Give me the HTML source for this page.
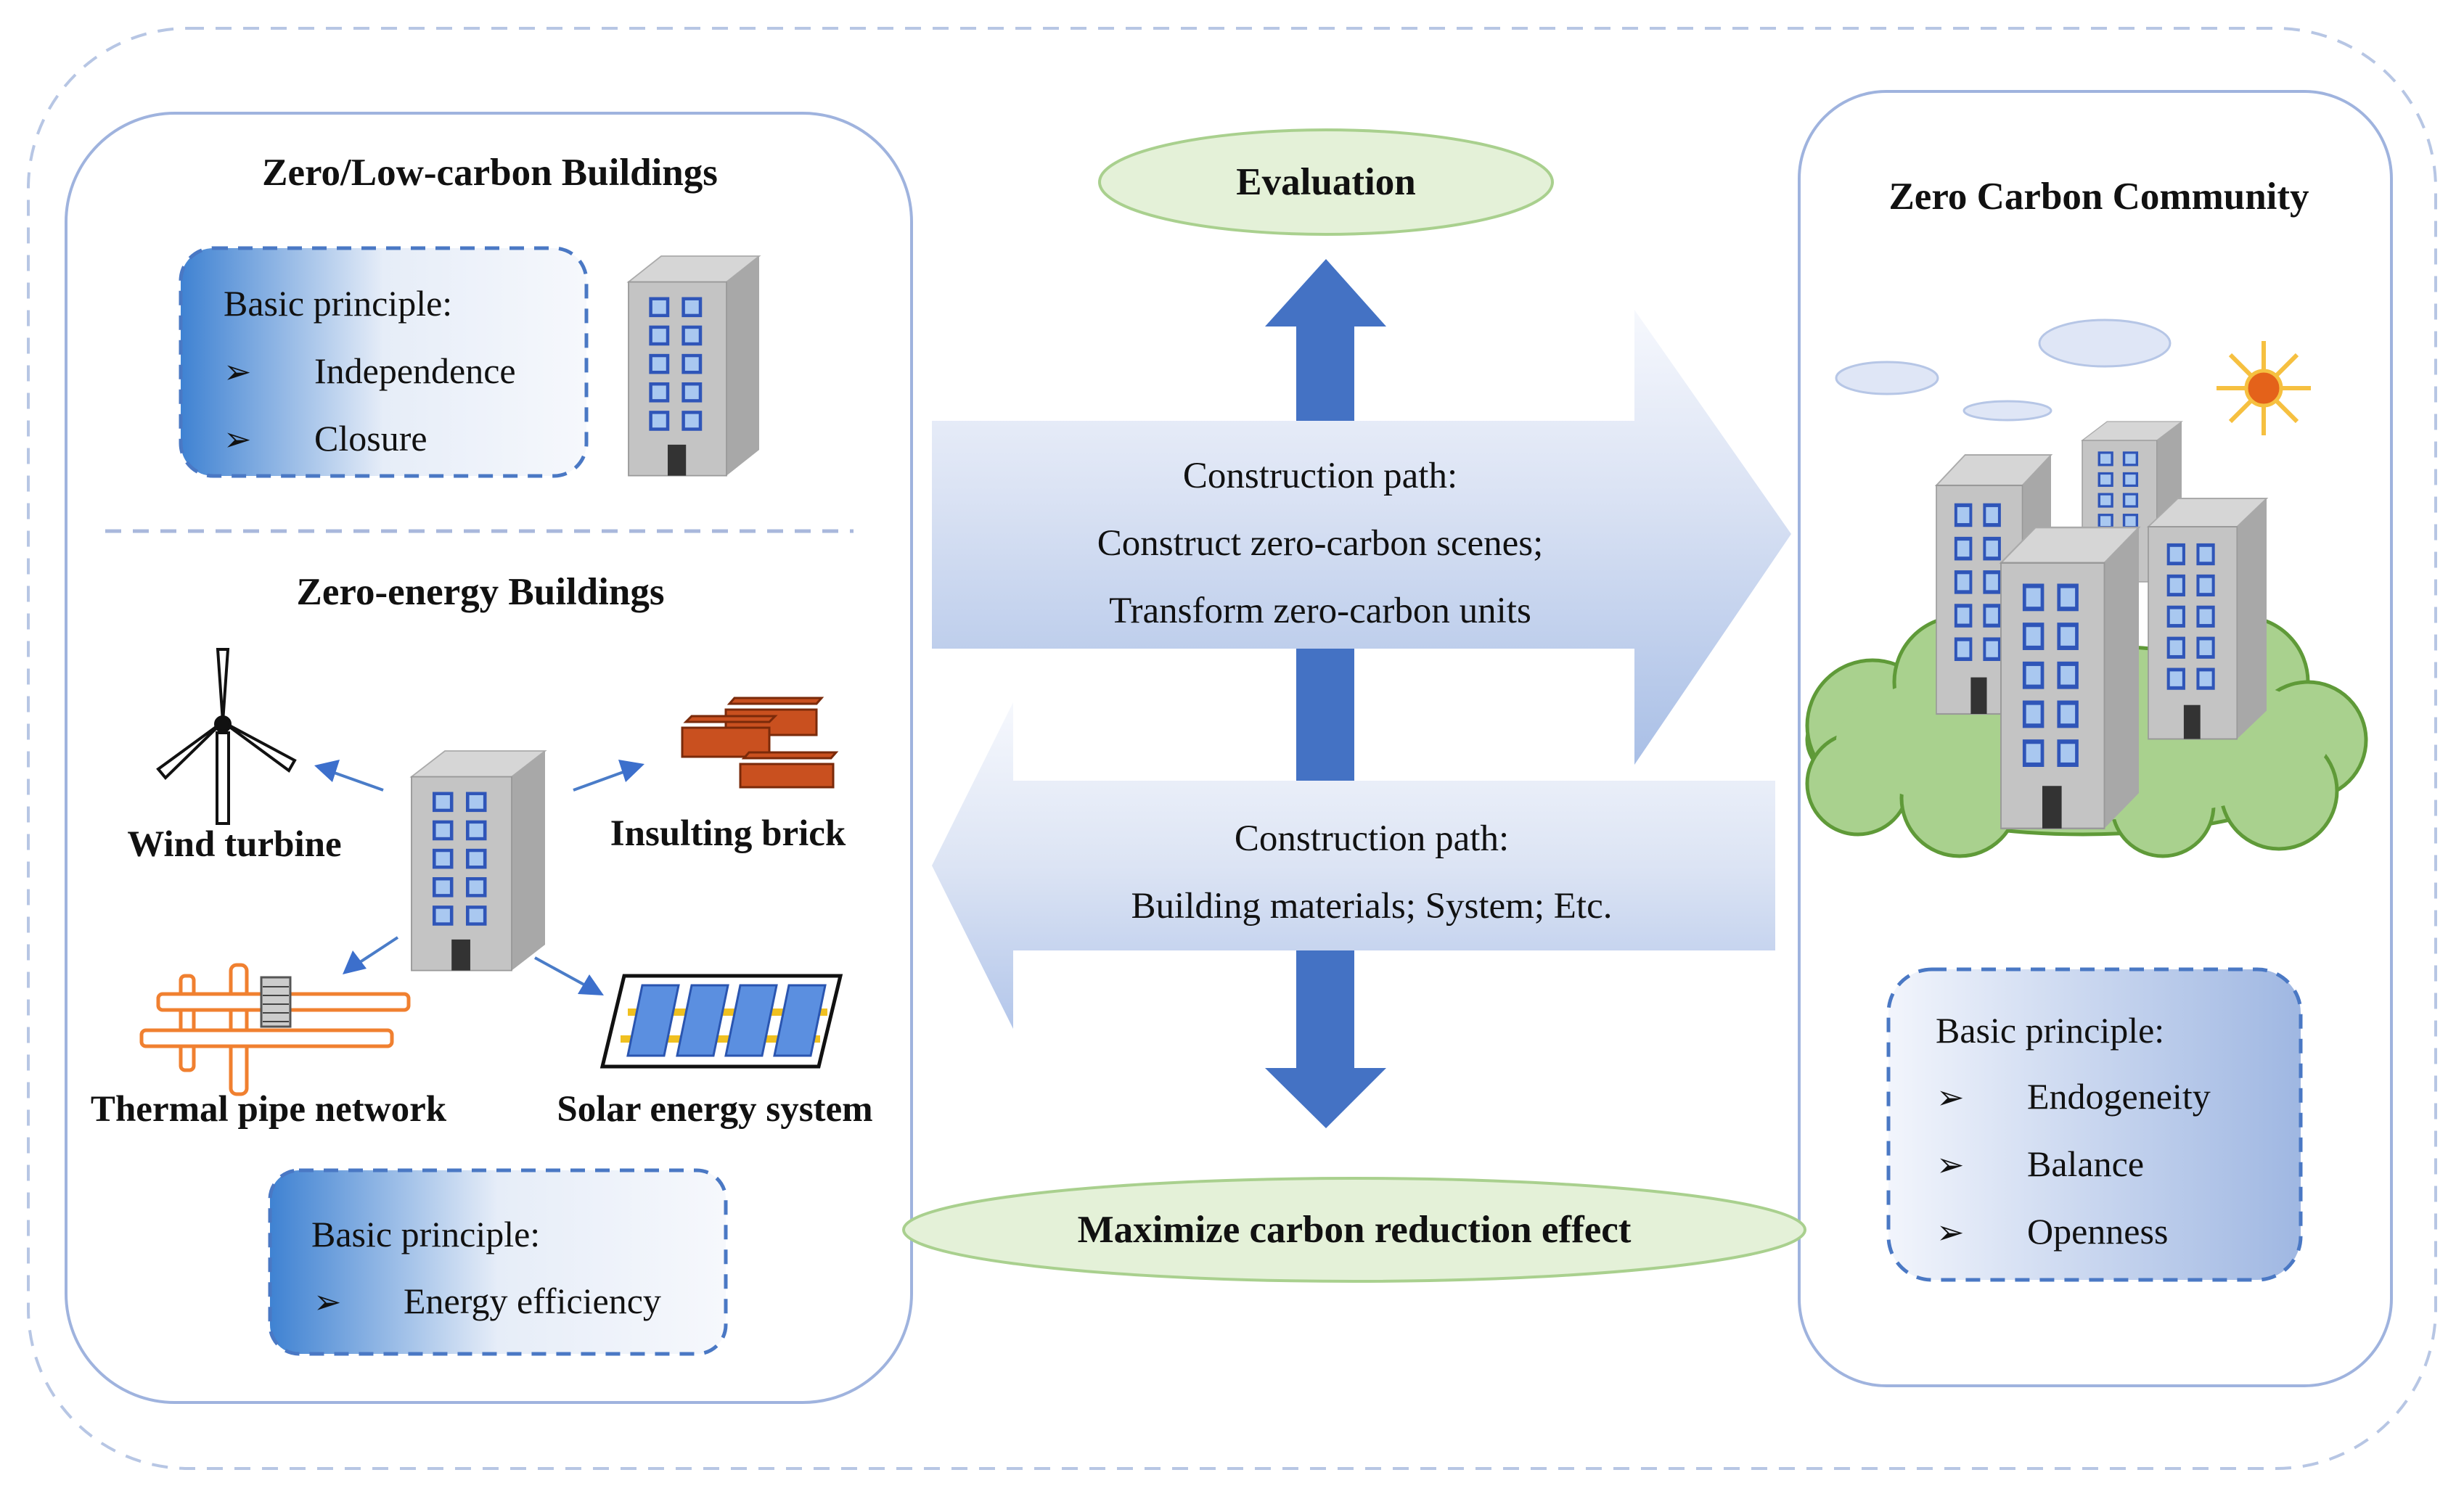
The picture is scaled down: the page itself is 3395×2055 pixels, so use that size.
<!DOCTYPE html>
<html><head><meta charset="utf-8"><style>
html,body{margin:0;padding:0;background:#fff}
svg{display:block}
text{font-family:"Liberation Serif",serif;fill:#111}
.b{font-weight:bold}
.bu{font-family:"DejaVu Sans",sans-serif;font-weight:bold}
</style></head><body>
<svg width="3395" height="2055" viewBox="0 0 3395 2055" xmlns="http://www.w3.org/2000/svg">
<defs>
<linearGradient id="gl" x1="0" y1="0" x2="1" y2="0">
<stop offset="0" stop-color="#3f82d2"/><stop offset="0.5" stop-color="#e6edf8"/><stop offset="1" stop-color="#f6f8fc"/></linearGradient>
<linearGradient id="gr" x1="0" y1="0" x2="1" y2="0">
<stop offset="0" stop-color="#f2f5fc"/><stop offset="1" stop-color="#9fb7e2"/></linearGradient>
<linearGradient id="ga" x1="0" y1="0" x2="0" y2="1">
<stop offset="0" stop-color="#f6f8fd"/><stop offset="0.4" stop-color="#dbe3f4"/><stop offset="1" stop-color="#a9bfe6"/></linearGradient>
<linearGradient id="ga2" x1="0" y1="0" x2="0" y2="1">
<stop offset="0" stop-color="#f6f8fd"/><stop offset="0.5" stop-color="#dce4f4"/><stop offset="1" stop-color="#b3c6ea"/></linearGradient>
<g id="bld">
<polygon points="0,20 25,0 100,0 75,20" fill="#d6d6d6" stroke="#aaa" stroke-width="1"/>
<polygon points="75,20 100,0 100,150 75,170" fill="#a8a8a8"/>
<rect x="0" y="20" width="75" height="150" fill="#c4c4c4" stroke="#999" stroke-width="1"/>
<g fill="#a9c8f0" stroke="#2f55b8" stroke-width="2.5">
<rect x="17" y="33" width="13" height="13"/><rect x="42" y="33" width="13" height="13"/>
<rect x="17" y="55" width="13" height="13"/><rect x="42" y="55" width="13" height="13"/>
<rect x="17" y="77" width="13" height="13"/><rect x="42" y="77" width="13" height="13"/>
<rect x="17" y="99" width="13" height="13"/><rect x="42" y="99" width="13" height="13"/>
<rect x="17" y="121" width="13" height="13"/><rect x="42" y="121" width="13" height="13"/>
</g>
<rect x="30" y="146" width="14" height="24" fill="#333"/>
</g>
</defs>

<rect x="39" y="39" width="3317" height="1985" rx="220" fill="none" stroke="#b7c6e4" stroke-width="4" stroke-dasharray="22,16"/>
<rect x="91" y="156" width="1165" height="1777" rx="150" fill="#fff" stroke="#9fb3de" stroke-width="4"/>
<rect x="2479" y="126" width="816" height="1784" rx="120" fill="#fff" stroke="#9fb3de" stroke-width="4"/>

<text x="675" y="255" text-anchor="middle" class="b" font-size="53">Zero/Low-carbon Buildings</text>
<rect x="249" y="342" width="559" height="314" rx="45" fill="url(#gl)" stroke="#4a78c4" stroke-width="5" stroke-dasharray="20,14"/>
<text x="308" y="435" font-size="50">Basic principle:</text>
<text x="308" y="528" class="bu" font-size="46">➢</text><text x="433" y="528" font-size="50">Independence</text>
<text x="308" y="621" class="bu" font-size="46">➢</text><text x="433" y="621" font-size="50">Closure</text>
<use href="#bld" transform="translate(866,353) scale(1.8,1.78)"/>
<line x1="145" y1="732" x2="1176" y2="732" stroke="#a9b8dc" stroke-width="5" stroke-dasharray="22,16"/>
<text x="662" y="833" text-anchor="middle" class="b" font-size="53">Zero-energy Buildings</text>

<g stroke="#111" stroke-width="4" fill="none">
<rect x="299" y="1010" width="16" height="125" fill="#fff"/>
<path d="M307,995 L300,895 L314,895 Z" fill="#fff"/>
<path d="M307,995 L218,1060 L228,1072 Z" fill="#fff"/>
<path d="M307,995 L406,1048 L398,1062 Z" fill="#fff"/>
<circle cx="307" cy="998" r="10" fill="#111"/>
</g>
<text x="323" y="1180" text-anchor="middle" class="b" font-size="51">Wind turbine</text>

<use href="#bld" transform="translate(567,1035) scale(1.84,1.78)"/>

<g fill="#c9501f" stroke="#7a2a0a" stroke-width="3">
<polygon points="1005,970 1125,970 1132,962 1012,962"/>
<rect x="1000" y="978" width="125" height="35"/>
<polygon points="945,995 1060,995 1068,987 953,987"/>
<rect x="940" y="1003" width="120" height="40"/>
<polygon points="1025,1045 1145,1045 1152,1037 1032,1037"/>
<rect x="1020" y="1053" width="128" height="32"/>
</g>
<text x="1003" y="1165" text-anchor="middle" class="b" font-size="51">Insulting brick</text>

<g stroke="#4a7cc8" stroke-width="4" fill="#3c6fcc">
<line x1="528" y1="1089" x2="452" y2="1062"/><polygon points="433,1055 468,1047 458,1078" stroke="none"/>
<line x1="790" y1="1089" x2="870" y2="1060"/><polygon points="888,1053 852,1047 862,1078" stroke="none"/>
<line x1="548" y1="1292" x2="490" y2="1330"/><polygon points="472,1343 486,1310 505,1335" stroke="none"/>
<line x1="737" y1="1320" x2="810" y2="1360"/><polygon points="832,1372 812,1343 796,1370" stroke="none"/>
</g>

<g transform="translate(0,-50)">
<g fill="#fff" stroke="#f08030" stroke-width="5">
<rect x="249" y="1395" width="18" height="130" rx="6"/>
<rect x="318" y="1380" width="22" height="178" rx="8"/>
<rect x="218" y="1420" width="345" height="22" rx="6"/>
<rect x="195" y="1470" width="345" height="22" rx="6"/>
<rect x="360" y="1397" width="40" height="68" fill="#ccc" stroke="#555" stroke-width="3"/>
</g>
<g stroke="#444" stroke-width="2"><line x1="362" y1="1410" x2="398" y2="1410"/><line x1="362" y1="1422" x2="398" y2="1422"/><line x1="362" y1="1434" x2="398" y2="1434"/><line x1="362" y1="1446" x2="398" y2="1446"/><line x1="362" y1="1458" x2="398" y2="1458"/></g>
</g>
<text x="370" y="1545" text-anchor="middle" class="b" font-size="51">Thermal pipe network</text>

<polygon points="860,1345 1158,1345 1128,1470 830,1470" fill="#fff" stroke="#111" stroke-width="5"/>
<g stroke="#f0c020" stroke-width="10"><line x1="865" y1="1395" x2="1140" y2="1395"/><line x1="855" y1="1432" x2="1130" y2="1432"/></g>
<g fill="#5b8fe0" stroke="#2a55b0" stroke-width="3">
<polygon points="885,1358 935,1358 915,1455 865,1455"/>
<polygon points="953,1358 1003,1358 983,1455 933,1455"/>
<polygon points="1020,1358 1070,1358 1050,1455 1000,1455"/>
<polygon points="1087,1358 1137,1358 1117,1455 1067,1455"/>
</g>
<text x="985" y="1545" text-anchor="middle" class="b" font-size="51">Solar energy system</text>

<rect x="372" y="1613" width="628" height="253" rx="40" fill="url(#gl)" stroke="#4a78c4" stroke-width="5" stroke-dasharray="20,14"/>
<text x="429" y="1718" font-size="50">Basic principle:</text>
<text x="432" y="1810" class="bu" font-size="46">➢</text><text x="556" y="1810" font-size="50">Energy efficiency</text>

<ellipse cx="1827" cy="251" rx="312" ry="72" fill="#e4f1d8" stroke="#a9d08e" stroke-width="4"/>
<text x="1827" y="268" text-anchor="middle" class="b" font-size="53">Evaluation</text>
<rect x="1786" y="445" width="80" height="1030" fill="#4472c4"/>
<polygon points="1827,357 1910,450 1743,450" fill="#4472c4"/>
<polygon points="1827,1555 1910,1472 1743,1472" fill="#4472c4"/>

<polygon points="1284,580 2252,580 2252,427 2468,736 2252,1054 2252,894 1284,894" fill="url(#ga)"/>
<text x="1819" y="672" text-anchor="middle" font-size="51">Construction path:</text>
<text x="1819" y="765" text-anchor="middle" font-size="51">Construct zero-carbon scenes;</text>
<text x="1819" y="858" text-anchor="middle" font-size="51">Transform zero-carbon units</text>

<polygon points="2446,1076 1396,1076 1396,968 1284,1193 1396,1418 1396,1310 2446,1310" fill="url(#ga2)"/>
<text x="1890" y="1172" text-anchor="middle" font-size="51">Construction path:</text>
<text x="1890" y="1265" text-anchor="middle" font-size="51">Building materials;  System; Etc.</text>

<ellipse cx="1866" cy="1695" rx="621" ry="71" fill="#e4f1d8" stroke="#a9d08e" stroke-width="4"/>
<text x="1866" y="1712" text-anchor="middle" class="b" font-size="53">Maximize carbon reduction effect</text>

<text x="2892" y="288" text-anchor="middle" class="b" font-size="53">Zero Carbon Community</text>
<g fill="#dfe6f6" stroke="#b6c6e6" stroke-width="3">
<ellipse cx="2900" cy="473" rx="90" ry="32"/>
<ellipse cx="2600" cy="521" rx="70" ry="22"/>
<ellipse cx="2766" cy="566" rx="60" ry="13"/>
</g>
<g stroke="#f6c040" stroke-width="6">
<line x1="3119" y1="470" x2="3119" y2="600"/><line x1="3054" y1="535" x2="3184" y2="535"/>
<line x1="3073" y1="489" x2="3165" y2="581"/><line x1="3165" y1="489" x2="3073" y2="581"/>
</g>
<circle cx="3119" cy="535" r="24" fill="#e4621a" stroke="#f6c040" stroke-width="5"/>
<g fill="#a9d18e" stroke="#5f9a38" stroke-width="5">
<ellipse cx="2870" cy="1020" rx="380" ry="130"/>
<circle cx="2580" cy="1000" r="90"/><circle cx="2560" cy="1080" r="70"/>
<circle cx="2700" cy="940" r="90"/><circle cx="3090" cy="940" r="90"/>
<circle cx="3180" cy="1020" r="80"/><circle cx="3140" cy="1090" r="80"/>
<circle cx="2980" cy="1110" r="70"/><circle cx="2700" cy="1100" r="80"/>
</g>
<ellipse cx="2870" cy="1020" rx="340" ry="110" fill="#a9d18e"/>
<use href="#bld" transform="translate(2869,581) scale(1.37,1.3)"/>
<use href="#bld" transform="translate(2668,627) scale(1.58,2.1)"/>
<use href="#bld" transform="translate(2960,687) scale(1.63,1.95)"/>
<use href="#bld" transform="translate(2757,727) scale(1.9,2.44)"/>

<rect x="2602" y="1336" width="568" height="428" rx="60" fill="url(#gr)" stroke="#4a78c4" stroke-width="5" stroke-dasharray="20,14"/>
<text x="2667" y="1437" font-size="50">Basic principle:</text>
<text x="2668" y="1528" class="bu" font-size="46">➢</text><text x="2793" y="1528" font-size="50">Endogeneity</text>
<text x="2668" y="1621" class="bu" font-size="46">➢</text><text x="2793" y="1621" font-size="50">Balance</text>
<text x="2668" y="1714" class="bu" font-size="46">➢</text><text x="2793" y="1714" font-size="50">Openness</text>
</svg>
</body></html>
